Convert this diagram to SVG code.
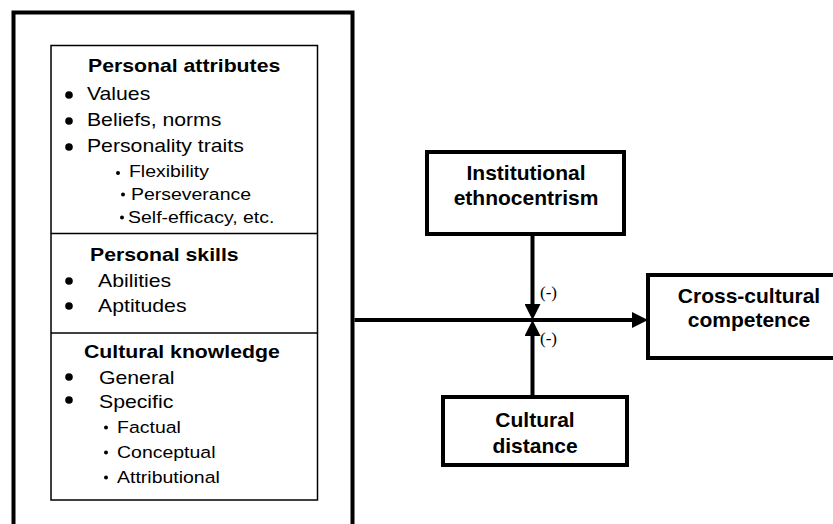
<svg xmlns="http://www.w3.org/2000/svg" width="833" height="524" viewBox="0 0 833 524">
<style>
.box{fill:#fff;stroke:#000;stroke-width:4}
.thin{fill:#fff;stroke:#000;stroke-width:1.5}
.hd{font-family:"Liberation Sans",Arial,sans-serif;font-weight:bold;font-size:18px;fill:#000}
.it{font-family:"Liberation Sans",Arial,sans-serif;font-size:18px;fill:#000}
.sub{font-family:"Liberation Sans",Arial,sans-serif;font-size:16.5px;fill:#000}
.lbl{font-family:"Liberation Sans",Arial,sans-serif;font-weight:bold;font-size:21px;fill:#000;text-anchor:middle}
.sign{font-family:"Liberation Serif","Times New Roman",serif;font-size:17px;fill:#000}
.conn{stroke:#000;stroke-width:4;fill:none}
</style>
<defs>
<marker id="ah" markerWidth="16" markerHeight="16" refX="6" refY="8" orient="auto" markerUnits="userSpaceOnUse">
<path d="M0,0 L16,8 L0,16 z" fill="#000"/>
</marker>
</defs>
<rect width="833" height="524" fill="#fff"/>

<g id="antecedents">
<rect class="box" x="13.5" y="12.5" width="339" height="540"/>
<rect class="thin" x="51" y="45.5" width="266.5" height="454.5"/>
<line x1="51" y1="233.5" x2="317.5" y2="233.5" stroke="#000" stroke-width="1.5"/>
<line x1="51" y1="333" x2="317.5" y2="333" stroke="#000" stroke-width="1.5"/>
<g fill="#000">
<circle cx="69" cy="95" r="3.8"/>
<circle cx="69" cy="121" r="3.8"/>
<circle cx="69" cy="147" r="3.8"/>
<circle cx="118" cy="173" r="2"/>
<circle cx="123" cy="194.5" r="2"/>
<circle cx="122" cy="217.5" r="2"/>
<circle cx="69" cy="281" r="3.8"/>
<circle cx="69" cy="306" r="3.8"/>
<circle cx="69" cy="377" r="3.8"/>
<circle cx="69" cy="400" r="3.8"/>
<circle cx="106" cy="427.5" r="2"/>
<circle cx="106" cy="452.5" r="2"/>
<circle cx="106" cy="477.5" r="2"/>
</g>
<g transform="scale(1.18 1)">
<text class="hd" x="74.6" y="72">Personal attributes</text>
<text class="it" x="73.7" y="100">Values</text>
<text class="it" x="73.7" y="126">Beliefs, norms</text>
<text class="it" x="73.7" y="152">Personality traits</text>
<text class="sub" x="109.3" y="177">Flexibility</text>
<text class="sub" x="111" y="200">Perseverance</text>
<text class="sub" x="108.5" y="223">Self-efficacy, etc.</text>
<text class="hd" x="76.3" y="261">Personal skills</text>
<text class="it" x="83.1" y="287">Abilities</text>
<text class="it" x="83.1" y="312.5">Aptitudes</text>
<text class="hd" x="71.2" y="358">Cultural knowledge</text>
<text class="it" x="83.9" y="384">General</text>
<text class="it" x="83.9" y="408">Specific</text>
<text class="sub" x="99.2" y="433">Factual</text>
<text class="sub" x="99.2" y="458">Conceptual</text>
<text class="sub" x="99.2" y="483">Attributional</text>
</g>
</g>

<g id="institutional">
<rect class="box" x="427" y="152" width="197" height="82"/>
<text class="lbl" x="526" y="180">Institutional</text>
<text class="lbl" x="526" y="205">ethnocentrism</text>
</g>

<g id="competence">
<rect class="box" x="648" y="275" width="200" height="83"/>
<text class="lbl" x="749" y="303">Cross-cultural</text>
<text class="lbl" x="749" y="327">competence</text>
</g>

<g id="distance">
<rect class="box" x="443" y="397" width="184" height="68"/>
<text class="lbl" x="535" y="427">Cultural</text>
<text class="lbl" x="535" y="452.5">distance</text>
</g>

<g id="connectors">
<line class="conn" x1="354.5" y1="320" x2="638" y2="320" marker-end="url(#ah)"/>
<line class="conn" x1="532.5" y1="236" x2="532.5" y2="310" marker-end="url(#ah)"/>
<line class="conn" x1="532.5" y1="395" x2="532.5" y2="330" marker-end="url(#ah)"/>
<text class="sign" x="540" y="298">(-)</text>
<text class="sign" x="540" y="344">(-)</text>
</g>
</svg>
